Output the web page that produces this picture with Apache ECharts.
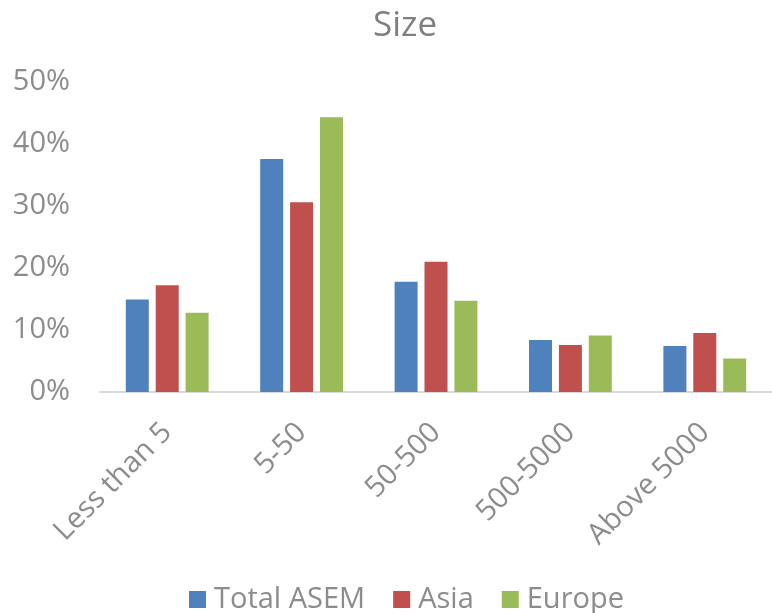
<!DOCTYPE html>
<html>
<head>
<meta charset="utf-8">
<script src="https://cdn.jsdelivr.net/npm/echarts@6/dist/echarts.min.js"></script>
<style>html,body{margin:0;padding:0;background:#fff}#c{width:772px;height:613px}</style>
</head>
<body>
<div id="c"></div>
<script>
const categories = ['Less than 5', '5-50', '50-500', '500-5000', 'Above 5000'];
const totalASEM = [14.9, 37.6, 17.8, 8.4, 7.4];
const asia = [17.2, 30.6, 21.0, 7.6, 9.5];
const europe = [12.8, 44.3, 14.7, 9.1, 5.4];
const seriesNames = ['Total ASEM', 'Asia', 'Europe'];
const colors = ['#4f81bd', '#c0504d', '#9bbb59'];

const font = 'Open Sans, Liberation Sans, sans-serif';
const chart = echarts.init(document.getElementById('c'));
const mk = (name, data, color) => ({
  name, type: 'bar', data, barWidth: 23, barGap: '30%',
  itemStyle: { color },
  emphasis: { disabled: true }
});
chart.setOption({
  animation: false,
  title: {
    text: 'Size', left: 400, top: 4, textAlign: 'center',
    textStyle: { fontFamily: font, fontSize: 35, fontWeight: 'normal', color: '#7f7f7f' }
  },
  legend: {
    top: 580, left: 184, itemWidth: 17, itemHeight: 17, itemGap: 28,
    icon: 'rect',
    textStyle: { fontFamily: font, fontSize: 29, color: '#8c8c8c', padding: [0, 0, 0, 3] },
    data: seriesNames
  },
  grid: { left: 100, right: 0, top: 82, bottom: 221 },
  xAxis: {
    type: 'category', data: categories,
    axisLine: { lineStyle: { color: '#d9d9d9', width: 2 } },
    axisTick: { show: false },
    axisLabel: { rotate: 45, fontFamily: font, fontSize: 29, color: '#8c8c8c', margin: 36, interval: 0 }
  },
  yAxis: {
    type: 'value', min: 0, max: 50, interval: 10,
    splitLine: { show: false },
    axisLine: { show: false },
    axisLabel: { formatter: '{value}%', fontFamily: font, fontSize: 29, color: '#8c8c8c', margin: 30 }
  },
  series: [mk(seriesNames[0], totalASEM, colors[0]), mk(seriesNames[1], asia, colors[1]), mk(seriesNames[2], europe, colors[2])]
});
</script>
</body>
</html>
